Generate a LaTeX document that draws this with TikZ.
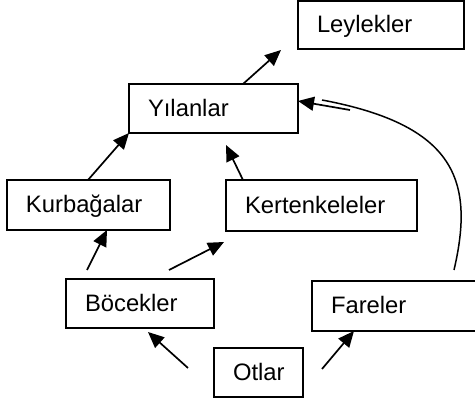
\documentclass[tikz,border=0pt]{standalone}
\usepackage{fontspec}
\setmainfont{Liberation Sans}
\usetikzlibrary{arrows.meta}
\tikzset{
    box/.style={draw, line width=1.5pt, anchor=north west, inner xsep=19pt, inner ysep=0pt,
        outer sep=0pt, align=left, text height=19pt, text depth=3pt,
        font=\fontsize{23.8}{28}\selectfont},
    arr/.style={line width=1.7pt, -{Triangle[length=16pt,width=14pt]}},
}
\begin{document}
\begin{tikzpicture}[x=1pt,y=-1pt]
        \useasboundingbox (0,0) rectangle (475,401);
        \node[box, text width=128pt, minimum height=48pt] (ley) at (298,1) {Leylekler};
        \node[box, text width=131pt, minimum height=49pt] (yil) at (129,84) {Yılanlar};
        \node[box, text width=125pt, minimum height=50pt] (kur) at (7,180) {Kurbağalar};
        \node[box, text width=153pt, minimum height=51pt] (ker) at (226,180) {Kertenkeleler};
        \node[box, text width=110pt, minimum height=49pt] (boc) at (66,279) {Böcekler};
        \node[box, text width=127pt, minimum height=50pt] (far) at (312,281) {Fareler};
        \node[box, text width=51pt, minimum height=49pt] (otl) at (214,348) {Otlar};
        \draw[arr] ([xshift=114pt]yil.north west) -- ([xshift=-17pt,yshift=-1pt]ley.south west);
        \draw[arr] ([xshift=81pt]kur.north west) -- (yil.south west);
        \draw[arr] ([xshift=17pt]ker.north west) -- ([xshift=97pt,yshift=-12pt]yil.south west);
        \draw[arr] ([xshift=21pt,yshift=9pt]boc.north west) -- ([xshift=100pt]kur.south west);
        \draw[arr] ([xshift=103pt,yshift=9pt]boc.north west) -- ([xshift=-2pt,yshift=-11pt]ker.south west);
        \draw[arr] ([xshift=-26pt,yshift=-20pt]otl.north west) -- ([xshift=82pt,yshift=-4pt]boc.south west);
        \draw[arr] ([xshift=19pt,yshift=-21pt]otl.north east) -- ([xshift=42pt]far.south west);
        % mouse line up to the snakes
        \coordinate (fstart) at ([xshift=142pt,yshift=11pt]far.north west);
        \coordinate (fend) at (322,100);
        \coordinate (fbend) at (350,110);
        \draw[line width=1.5pt] (fstart) .. controls (475,180) and (455,125) .. (fend);
        \draw[arr] (fbend) -- ([yshift=-17pt]yil.north east);
\end{tikzpicture}
\end{document}
